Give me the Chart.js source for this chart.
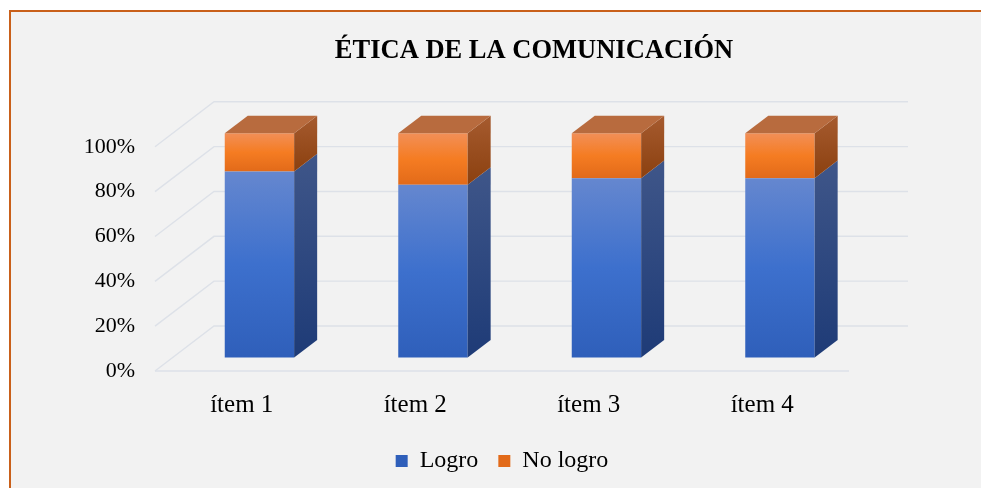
<!DOCTYPE html>
<html>
<head>
<meta charset="utf-8">
<script src="https://cdn.jsdelivr.net/npm/chart.js@4.4.0/dist/chart.umd.min.js"></script>
<style>
  html, body { margin: 0; padding: 0; background: #fff; overflow: hidden; width: 981px; height: 488px; }
  #frame { position: absolute; left: 9px; top: 10px; width: 1100px; height: 600px;
           border: 2px solid #C9601A; background: #F2F2F2; }
  #wrap  { position: absolute; left: 0; top: 0; width: 1046px; height: 471px; }
</style>
</head>
<body>
<div id="frame"><div id="wrap"><canvas id="chart"></canvas></div></div>
<script>
'use strict';

// Datos (porcentajes)
const CATEGORIES = ['ítem 1', 'ítem 2', 'ítem 3', 'ítem 4'];
const LOGRO      = [83, 77, 80, 80];
const NO_LOGRO   = [17, 23, 20, 20];
const Y_TICKS    = [0, 20, 40, 60, 80, 100];

// Profundidad 3D (pared del fondo y posición de las columnas)
const WALL_DX   = 59;
const WALL_DY   = 45;
const BAR_FRONT = 0.30;
const BAR_DEPTH = 0.39;

const GRID_CLR = '#DDE1E8';
const FONT     = "'Liberation Serif', 'Times New Roman', serif";

const FRONT_BLUE   = [[0, '#6587CF'], [0.5, '#3D70CD'], [1, '#2F5FBA']];
const FRONT_ORANGE = [[0, '#F28F57'], [0.5, '#F57C22'], [1, '#E26A19']];
const SIDE_BLUE    = [[0, '#3F5689'], [1, '#1E3B77']];
const SIDE_ORANGE  = [[0, '#A65B2F'], [1, '#8B400F']];
const TOP_CLR      = '#B86B3E';

function frontFill(stops, solid, lo, hi) {
  return c => {
    const ch = c.chart;
    if (c.type !== 'data' || !ch.chartArea) return solid;
    const y   = ch.scales.y;
    const top = y.getPixelForValue(hi(c.dataIndex));
    const bot = y.getPixelForValue(lo(c.dataIndex));
    const g   = ch.ctx.createLinearGradient(0, top, 0, bot);
    stops.forEach(([o, col]) => g.addColorStop(o, col));
    return g;
  };
}

const depth3d = {
  id: 'depth3d',
  beforeDatasetsDraw(chart) {
    const { ctx, chartArea: a, scales: { y } } = chart;
    ctx.save();
    ctx.strokeStyle = GRID_CLR;
    ctx.lineWidth   = 1.4;
    y.ticks.forEach(t => {
      const py = y.getPixelForValue(t.value);
      ctx.beginPath();
      ctx.moveTo(a.left, py);
      ctx.lineTo(a.left + WALL_DX, py - WALL_DY);
      ctx.lineTo(a.right + WALL_DX, py - WALL_DY);
      ctx.stroke();
    });
    const py0 = y.getPixelForValue(0);
    ctx.beginPath();
    ctx.moveTo(a.left, py0);
    ctx.lineTo(a.right, py0);
    ctx.stroke();
    ctx.restore();

    // columnas desplazadas hacia el fondo
    ctx.save();
    ctx.translate(WALL_DX * BAR_FRONT, -WALL_DY * BAR_FRONT);
  },
  afterDatasetsDraw(chart) {
    const { ctx } = chart;
    const dx = WALL_DX * BAR_DEPTH;
    const dy = WALL_DY * BAR_DEPTH;
    const last = chart.data.datasets.length - 1;
    chart.data.datasets.forEach((ds, di) => {
      const side = di === 0 ? SIDE_BLUE : SIDE_ORANGE;
      chart.getDatasetMeta(di).data.forEach(bar => {
        const { x, y, base, width } = bar.getProps(['x', 'y', 'base', 'width'], true);
        const l = x - width / 2;
        const r = x + width / 2;
        const g = ctx.createLinearGradient(0, y - dy, 0, base);
        side.forEach(([o, col]) => g.addColorStop(o, col));
        ctx.fillStyle = g;
        ctx.beginPath();
        ctx.moveTo(r, base);
        ctx.lineTo(r, y);
        ctx.lineTo(r + dx, y - dy);
        ctx.lineTo(r + dx, base - dy);
        ctx.closePath();
        ctx.fill();
        if (di === last) {
          ctx.fillStyle = TOP_CLR;
          ctx.beginPath();
          ctx.moveTo(l, y);
          ctx.lineTo(r, y);
          ctx.lineTo(r + dx, y - dy);
          ctx.lineTo(l + dx, y - dy);
          ctx.closePath();
          ctx.fill();
        }
      });
    });
    ctx.restore();
  },
};

Chart.defaults.font.family = FONT;
Chart.defaults.color = '#000';

new Chart(document.getElementById('chart'), {
  type: 'bar',
  data: {
    labels: CATEGORIES,
    datasets: [
      {
        label: 'Logro',
        data: LOGRO,
        backgroundColor: frontFill(FRONT_BLUE, '#4170C8', () => 0, i => LOGRO[i]),
        clip: false,
      },
      {
        label: 'No logro',
        data: NO_LOGRO,
        backgroundColor: frontFill(FRONT_ORANGE, '#F07D2E', i => LOGRO[i], i => LOGRO[i] + NO_LOGRO[i]),
        clip: false,
      },
    ],
  },
  plugins: [depth3d],
  options: {
    responsive: true,
    maintainAspectRatio: false,
    animation: false,
    categoryPercentage: 1,
    barPercentage: 0.4,
    plugins: {
      title: {
        display: true,
        text: 'ÉTICA DE LA COMUNICACIÓN',
        font: { size: 26.5, weight: 'bold', family: FONT },
        color: '#000',
        padding: { top: 23, bottom: 80 },
      },
      legend: {
        position: 'bottom',
        fullSize: false,
        labels: { font: { size: 24 }, boxWidth: 12, boxHeight: 12, padding: 20, color: '#000' },
      },
      tooltip: { enabled: false },
    },
    scales: {
      x: {
        stacked: true,
        grid: { display: false, drawTicks: false },
        border: { display: false },
        ticks: { font: { size: 25 }, padding: 19, color: '#000' },
        afterFit: s => { s.height = 58; },
      },
      y: {
        stacked: true,
        min: 0,
        max: 100,
        grid: { display: false, drawTicks: false },
        border: { display: false },
        afterBuildTicks: s => { s.ticks = Y_TICKS.map(v => ({ value: v })); },
        ticks: { font: { size: 22 }, padding: 20, color: '#000', callback: v => v + '%' },
        afterFit: s => { s.width = 144; },
      },
      // espacio a la derecha (profundidad de la pared), sin marcas
      yRight: {
        position: 'right',
        grid: { display: false, drawTicks: false },
        border: { display: false },
        ticks: { display: false },
        afterFit: s => { s.width = 208; },
      },
    },
  },
});
</script>
</body>
</html>
